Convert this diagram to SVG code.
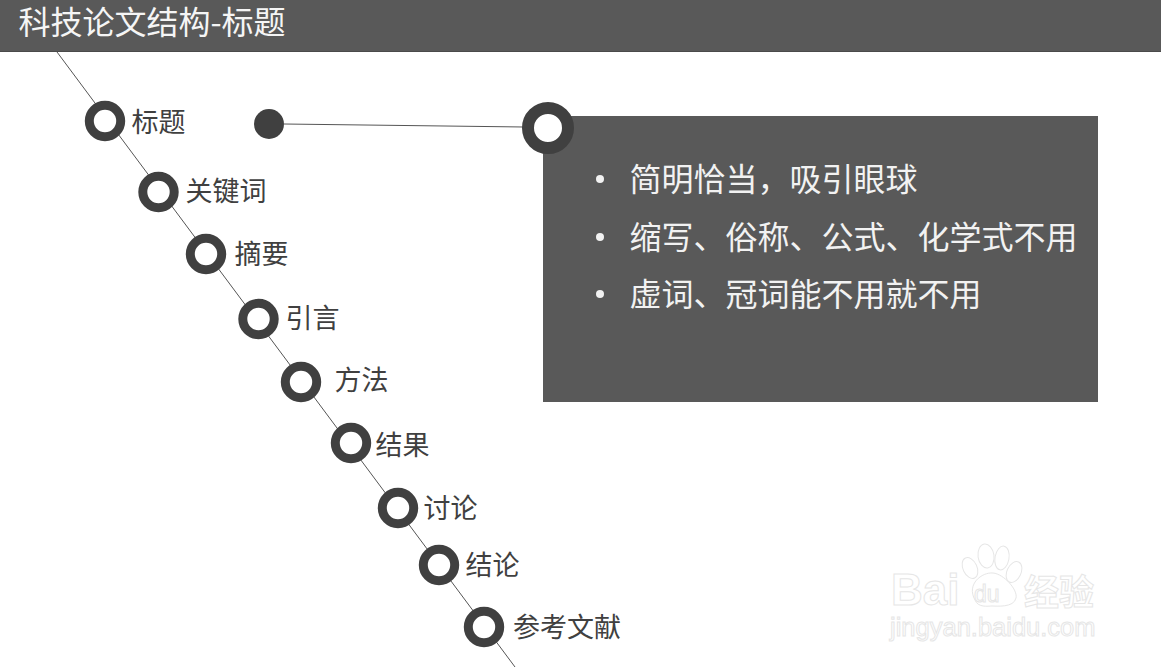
<svg xmlns="http://www.w3.org/2000/svg" width="1161" height="667" viewBox="0 0 1161 667">
<style>
text{font-family:"Liberation Sans","Noto Sans CJK SC",sans-serif}
.zh{font-family:"Noto Sans CJK SC",sans-serif}
.ring{fill:#fff;stroke:#404040;stroke-width:9}
.lb{font-size:27px;fill:#404040;font-weight:400}
.bd{font-size:32px;fill:#f2f2f2;font-weight:400}
.con{stroke:#555;stroke-width:1;fill:none}
.wm{fill:#fff;stroke:#e6e6e6;stroke-width:1}
</style>
<rect width="1161" height="667" fill="#fff"/>
<g id="header">
<rect x="0" y="0" width="1161" height="52" fill="#595959"/>
<line x1="0" y1="51.5" x2="1161" y2="51.5" stroke="#4a4a4a"/>
<text class="zh" x="18.5" y="34" font-size="32" font-weight="400" fill="#f5f5f5">科技论文结构-标题</text>
</g>
<g id="connectors">
<line class="con" x1="57" y1="52" x2="515" y2="667"/>
<line class="con" x1="284" y1="124" x2="524" y2="127"/>
</g>
<g id="panel">
<rect x="543" y="116" width="555" height="286" fill="#595959"/>
<circle cx="600" cy="179" r="4" fill="#f2f2f2"/>
<circle cx="600" cy="237" r="4" fill="#f2f2f2"/>
<circle cx="600" cy="294" r="4" fill="#f2f2f2"/>
<text class="zh bd" x="629.5" y="191">简明恰当，吸引眼球</text>
<text class="zh bd" x="629.5" y="249">缩写、俗称、公式、化学式不用</text>
<text class="zh bd" x="629.5" y="306">虚词、冠词能不用就不用</text>
</g>
<g id="panel-ring"><circle cx="548" cy="128" r="20" fill="#fff" stroke="#404040" stroke-width="12"/></g>
<g id="dot"><circle cx="269" cy="124" r="15" fill="#404040"/></g>
<g id="n1"><circle class="ring" cx="105" cy="121" r="15.7"/><text class="zh lb" x="131.5" y="132">标题</text></g>
<g id="n2"><circle class="ring" cx="158.5" cy="192" r="15.7"/><text class="zh lb" x="185.5" y="201">关键词</text></g>
<g id="n3"><circle class="ring" cx="206" cy="254" r="15.7"/><text class="zh lb" x="234.5" y="264">摘要</text></g>
<g id="n4"><circle class="ring" cx="258.5" cy="319" r="15.7"/><text class="zh lb" x="285.5" y="328">引言</text></g>
<g id="n5"><circle class="ring" cx="301" cy="382" r="15.7"/><text class="zh lb" x="334.5" y="390">方法</text></g>
<g id="n6"><circle class="ring" cx="351" cy="443" r="15.7"/><text class="zh lb" x="375.5" y="455">结果</text></g>
<g id="n7"><circle class="ring" cx="398" cy="508" r="15.7"/><text class="zh lb" x="423.5" y="518">讨论</text></g>
<g id="n8"><circle class="ring" cx="439" cy="565" r="15.7"/><text class="zh lb" x="465.5" y="575">结论</text></g>
<g id="n9"><circle class="ring" cx="484" cy="627" r="15.7"/><text class="zh lb" x="513" y="637">参考文献</text></g>
<g id="watermark">
<ellipse class="wm" cx="970" cy="568" rx="7" ry="11" transform="rotate(-25 970 568)"/>
<ellipse class="wm" cx="986" cy="556" rx="8" ry="12" transform="rotate(-8 986 556)"/>
<ellipse class="wm" cx="1002" cy="558" rx="7" ry="12" transform="rotate(10 1002 558)"/>
<ellipse class="wm" cx="1014" cy="572" rx="7" ry="11" transform="rotate(25 1014 572)"/>
<path class="wm" d="M975 600C966 584 982 572 993 573C1004 574 1018 590 1016 598C1014 608 996 606 992 606C988 606 978 608 975 600Z"/>
<text class="wm" x="891" y="605" font-size="44" font-weight="700" style="font-family:'Liberation Sans',sans-serif">Bai</text>
<text class="wm" x="974" y="602" font-size="23" style="font-family:'Liberation Sans',sans-serif">du</text>
<text class="wm zh" x="1024" y="605" font-size="35" font-weight="700">经验</text>
<text class="wm" x="890" y="636" font-size="25.5" style="font-family:'Liberation Sans',sans-serif">jingyan.baidu.com</text>
</g>
</svg>
